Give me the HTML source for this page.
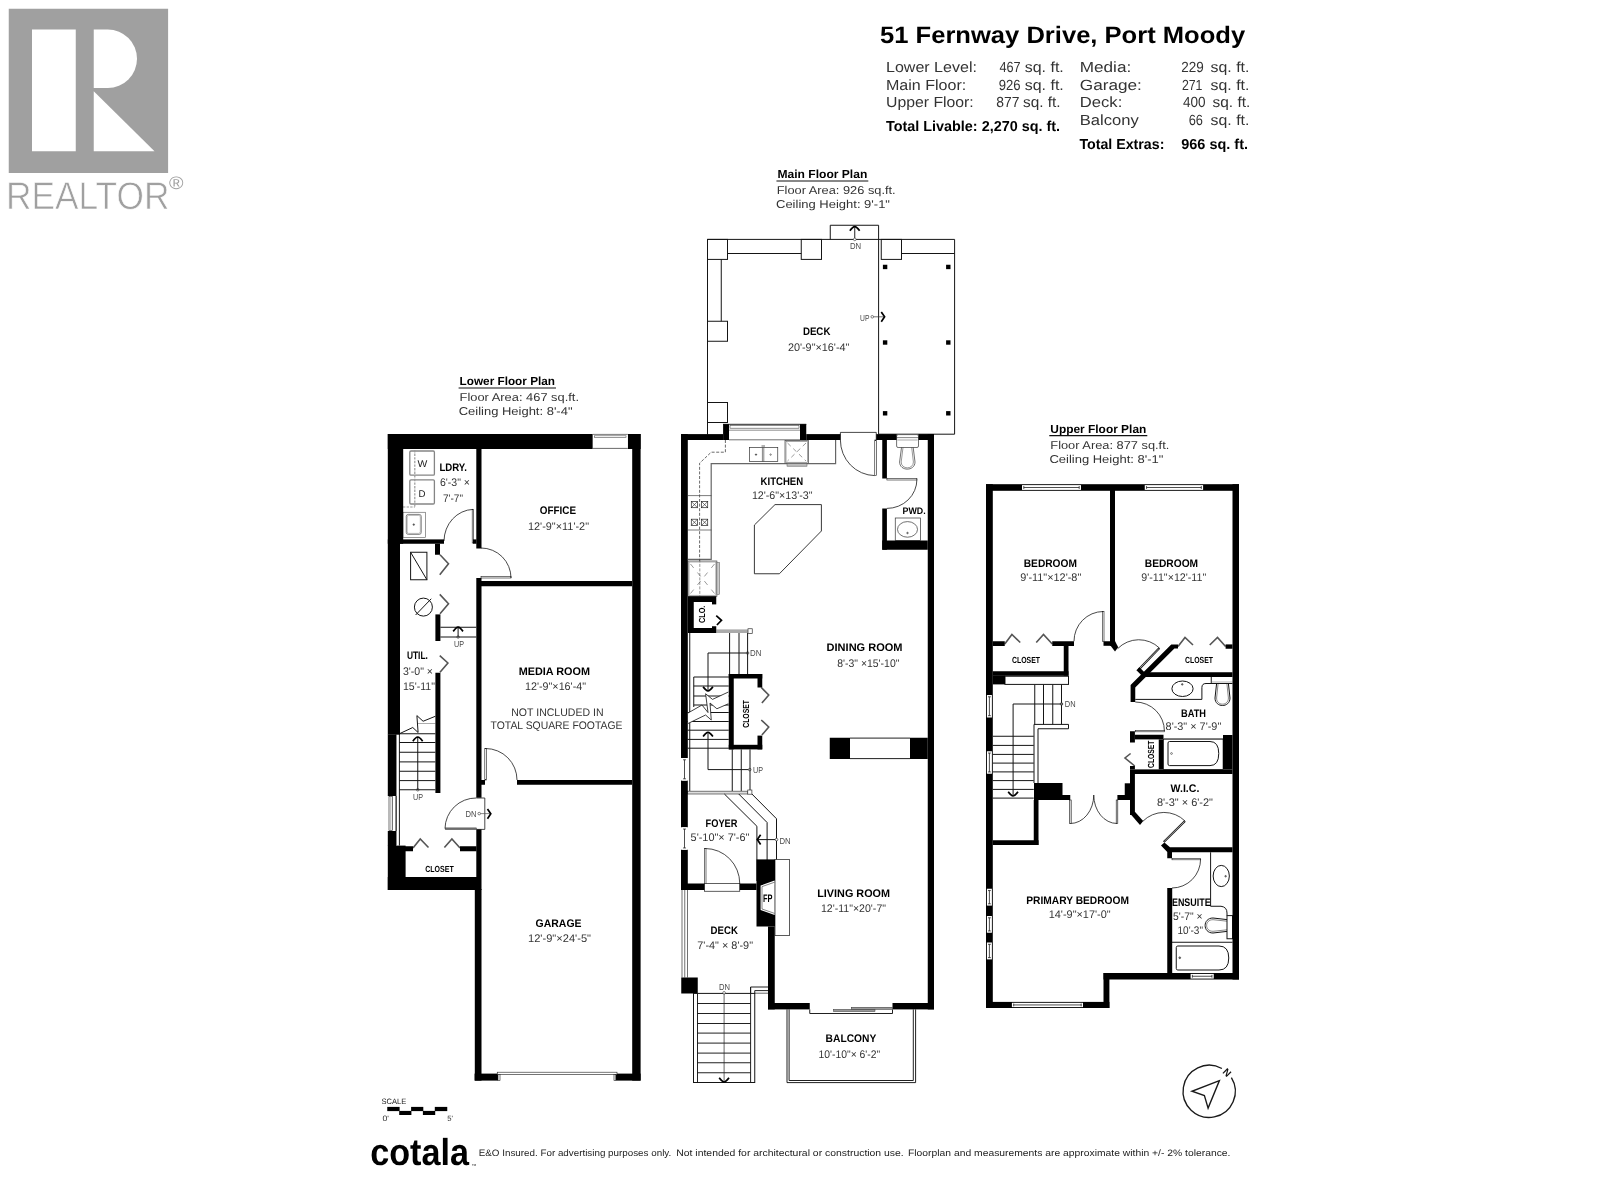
<!DOCTYPE html>
<html lang="en"><head><meta charset="utf-8"><title>51 Fernway Drive, Port Moody - Floor Plan</title>
<style>
html,body{margin:0;padding:0;background:#fff;}
body{width:1600px;height:1200px;overflow:hidden;}
svg{display:block;will-change:transform;text-rendering:geometricPrecision;font-family:"Liberation Sans",sans-serif;}
svg text{white-space:pre;}
</style></head><body>
<svg width="1600" height="1200" viewBox="0 0 1600 1200">
<rect width="1600" height="1200" fill="#fff"/>
<rect x="8.75" y="8.75" width="159.35" height="164.25" fill="#a0a0a0"/>
<rect x="32" y="29.5" width="43.75" height="121.75" fill="#fff"/>
<path d="M93.75,29.5 H107.75 A29.25,29.25 0 0 1 107.75,88 H93.75 Z" fill="#fff" stroke="none" stroke-width="0"/>
<path d="M93.75,91.25 L154.5,151.25 H93.75 Z" fill="#fff" stroke="none" stroke-width="0"/>
<text x="5.9" y="208.75" font-size="38.5" textLength="163.5" lengthAdjust="spacingAndGlyphs" fill="#a0a0a0" stroke="#fff" stroke-width="0.7">REALTOR</text>
<text x="169" y="188.6" font-size="18" textLength="14.5" lengthAdjust="spacingAndGlyphs" fill="#a0a0a0">®</text>
<text x="880" y="42.75" font-size="23.8" font-weight="700" textLength="365.2" lengthAdjust="spacingAndGlyphs" fill="#000">51 Fernway Drive, Port Moody</text>
<text x="886" y="71.9" font-size="14.7" textLength="90.9" lengthAdjust="spacingAndGlyphs" fill="#333">Lower Level:</text>
<text x="999.4" y="71.9" font-size="14.7" textLength="21.2" lengthAdjust="spacingAndGlyphs" fill="#333">467</text>
<text x="1024.75" y="71.9" font-size="14.7" textLength="39" lengthAdjust="spacingAndGlyphs" fill="#333">sq. ft.</text>
<text x="886" y="89.75" font-size="14.7" textLength="80.25" lengthAdjust="spacingAndGlyphs" fill="#333">Main Floor:</text>
<text x="998.75" y="89.75" font-size="14.7" textLength="21.85" lengthAdjust="spacingAndGlyphs" fill="#333">926</text>
<text x="1024.75" y="89.75" font-size="14.7" textLength="39" lengthAdjust="spacingAndGlyphs" fill="#333">sq. ft.</text>
<text x="886" y="107.25" font-size="14.7" textLength="87.75" lengthAdjust="spacingAndGlyphs" fill="#333">Upper Floor:</text>
<text x="996.25" y="107.25" font-size="14.7" textLength="23.15" lengthAdjust="spacingAndGlyphs" fill="#333">877</text>
<text x="1023" y="107.25" font-size="14.7" textLength="37.6" lengthAdjust="spacingAndGlyphs" fill="#333">sq. ft.</text>
<text x="886" y="130.6" font-size="14.4" font-weight="700" textLength="174" lengthAdjust="spacingAndGlyphs" fill="#000">Total Livable: 2,270 sq. ft.</text>
<text x="1079.75" y="71.9" font-size="14.7" textLength="51.5" lengthAdjust="spacingAndGlyphs" fill="#333">Media:</text>
<text x="1181.25" y="71.9" font-size="14.7" textLength="22.5" lengthAdjust="spacingAndGlyphs" fill="#333">229</text>
<text x="1210.6" y="71.9" font-size="14.7" textLength="38.8" lengthAdjust="spacingAndGlyphs" fill="#333">sq. ft.</text>
<text x="1079.75" y="90" font-size="14.7" textLength="62.15" lengthAdjust="spacingAndGlyphs" fill="#333">Garage:</text>
<text x="1181.9" y="90" font-size="14.7" textLength="20.6" lengthAdjust="spacingAndGlyphs" fill="#333">271</text>
<text x="1210.6" y="90" font-size="14.7" textLength="38.8" lengthAdjust="spacingAndGlyphs" fill="#333">sq. ft.</text>
<text x="1079.75" y="106.9" font-size="14.7" textLength="42.5" lengthAdjust="spacingAndGlyphs" fill="#333">Deck:</text>
<text x="1183" y="106.9" font-size="14.7" textLength="22.6" lengthAdjust="spacingAndGlyphs" fill="#333">400</text>
<text x="1212.5" y="106.9" font-size="14.7" textLength="37.75" lengthAdjust="spacingAndGlyphs" fill="#333">sq. ft.</text>
<text x="1079.75" y="124.75" font-size="14.7" textLength="59" lengthAdjust="spacingAndGlyphs" fill="#333">Balcony</text>
<text x="1188.75" y="124.75" font-size="14.7" textLength="14.25" lengthAdjust="spacingAndGlyphs" fill="#333">66</text>
<text x="1210.6" y="124.75" font-size="14.7" textLength="38.8" lengthAdjust="spacingAndGlyphs" fill="#333">sq. ft.</text>
<text x="1079.4" y="148.5" font-size="14.4" font-weight="700" textLength="85" lengthAdjust="spacingAndGlyphs" fill="#000">Total Extras:</text>
<text x="1181.25" y="148.5" font-size="14.4" font-weight="700" textLength="66.75" lengthAdjust="spacingAndGlyphs" fill="#000">966 sq. ft.</text>
<text x="459.6" y="384.8" font-size="11.8" font-weight="700" textLength="95.4" lengthAdjust="spacingAndGlyphs" fill="#000">Lower Floor Plan</text>
<path d="M458.6,388 L556,388" fill="none" stroke="#111" stroke-width="1.2"/>
<text x="459.6" y="401.2" font-size="11.4" textLength="119.4" lengthAdjust="spacingAndGlyphs" fill="#333">Floor Area: 467 sq.ft.</text>
<text x="458.75" y="415.2" font-size="11.4" textLength="113.75" lengthAdjust="spacingAndGlyphs" fill="#333">Ceiling Height: 8'-4"</text>
<text x="777.45" y="177.8" font-size="11.8" font-weight="700" textLength="89.85" lengthAdjust="spacingAndGlyphs" fill="#000">Main Floor Plan</text>
<path d="M776.45,181 L868.3,181" fill="none" stroke="#111" stroke-width="1.2"/>
<text x="776.75" y="194.4" font-size="11.4" textLength="118.95" lengthAdjust="spacingAndGlyphs" fill="#333">Floor Area: 926 sq.ft.</text>
<text x="776" y="208.4" font-size="11.4" textLength="114" lengthAdjust="spacingAndGlyphs" fill="#333">Ceiling Height: 9'-1"</text>
<text x="1050.3" y="432.5" font-size="11.8" font-weight="700" textLength="96" lengthAdjust="spacingAndGlyphs" fill="#000">Upper Floor Plan</text>
<path d="M1049.3,435.7 L1147.3,435.7" fill="none" stroke="#111" stroke-width="1.2"/>
<text x="1050.3" y="449.4" font-size="11.4" textLength="119" lengthAdjust="spacingAndGlyphs" fill="#333">Floor Area: 877 sq.ft.</text>
<text x="1049.4" y="463.1" font-size="11.4" textLength="114" lengthAdjust="spacingAndGlyphs" fill="#333">Ceiling Height: 8'-1"</text>
<rect x="409.8" y="451" width="24.6" height="24.2" rx="1.2" fill="none" stroke="#858585" stroke-width="1.3"/>
<rect x="409.8" y="479.8" width="24.6" height="24.2" rx="1.2" fill="none" stroke="#858585" stroke-width="1.3"/>
<path d="M414.8,450 L414.8,507" fill="none" stroke="#999" stroke-width="1.2" stroke-dasharray="2.4 1.2"/>
<path d="M403,507 L415,507" fill="none" stroke="#999" stroke-width="1.2" stroke-dasharray="2.4 1.2"/>
<text x="417.6" y="466.7" font-size="9.8" textLength="9.8" lengthAdjust="spacingAndGlyphs" fill="#222">W</text>
<text x="418.6" y="496.7" font-size="9.8" textLength="7" lengthAdjust="spacingAndGlyphs" fill="#222">D</text>
<rect x="403" y="512.25" width="22.6" height="25.25" fill="#fff" stroke="#555" stroke-width="0.6"/>
<rect x="406.25" y="514.4" width="15" height="20" rx="2" fill="none" stroke="#555" stroke-width="0.7"/>
<rect x="407.2" y="515.4" width="13.1" height="18" rx="1.5" fill="none" stroke="#555" stroke-width="0.4"/>
<circle cx="413.75" cy="524.6" r="0.8" fill="#555" stroke="#555" stroke-width="0.6"/>
<rect x="410.6" y="552.25" width="16.3" height="27.5" fill="none" stroke="#151515" stroke-width="1"/>
<path d="M410.6,552.25 L426.9,579.75" fill="none" stroke="#151515" stroke-width="1"/>
<circle cx="423.4" cy="607.1" r="9" fill="none" stroke="#151515" stroke-width="1"/>
<path d="M415.6,615 L431.25,598.75" fill="none" stroke="#151515" stroke-width="1"/>
<path d="M396,734.4 L396,845.6" fill="none" stroke="#151515" stroke-width="1"/>
<path d="M399.4,733.75 L399.4,845.6" fill="none" stroke="#151515" stroke-width="1"/>
<path d="M399.4,733.75 L435.4,733.75" fill="none" stroke="#151515" stroke-width="1"/>
<path d="M399.4,742.5 L435.4,742.5" fill="none" stroke="#151515" stroke-width="1"/>
<path d="M399.4,752.25 L435.4,752.25" fill="none" stroke="#151515" stroke-width="1"/>
<path d="M399.4,761.9 L435.4,761.9" fill="none" stroke="#151515" stroke-width="1"/>
<path d="M399.4,771.25 L435.4,771.25" fill="none" stroke="#151515" stroke-width="1"/>
<path d="M399.4,780.6 L435.4,780.6" fill="none" stroke="#151515" stroke-width="1"/>
<path d="M399.4,789.75 L435.4,789.75" fill="none" stroke="#151515" stroke-width="1"/>
<path d="M396,733.75 L399.4,733.75" fill="none" stroke="#151515" stroke-width="1"/>
<path d="M399.4,733.75 L412.75,727.5 L418.1,732.5 L416.9,715.6 L423.1,721.25 L435.4,716.25" fill="none" stroke="#151515" stroke-width="1"/>
<path d="M418,723.5 L435.4,723.5" fill="none" stroke="#888" stroke-width="0.7"/>
<path d="M417.75,738 L417.75,789.75" fill="none" stroke="#151515" stroke-width="1"/>
<path d="M412.85,741.16 Q415.79,737.2 417.75,737 Q419.71,737.2 422.65,741.16" fill="none" stroke="#000" stroke-width="1.7"/>
<circle cx="417.75" cy="789.75" r="1.3" fill="none" stroke="#333" stroke-width="0.6"/>
<text x="413" y="799.9" font-size="8.6" textLength="10" lengthAdjust="spacingAndGlyphs" fill="#4a4a4a">UP</text>
<path d="M440.4,627.25 L476.25,627.25" fill="none" stroke="#151515" stroke-width="1"/>
<path d="M440.4,637 L476.25,637" fill="none" stroke="#151515" stroke-width="1"/>
<path d="M458.1,628 L458.1,637" fill="none" stroke="#151515" stroke-width="1"/>
<path d="M453.2,631.37 Q456.14,627.4 458.1,627.2 Q460.06,627.4 463,631.37" fill="none" stroke="#000" stroke-width="1.7"/>
<circle cx="458.1" cy="637" r="1.3" fill="none" stroke="#333" stroke-width="0.6"/>
<text x="454" y="646.8" font-size="8.6" textLength="10" lengthAdjust="spacingAndGlyphs" fill="#4a4a4a">UP</text>
<rect x="472.2" y="509.4" width="1.4" height="33.6" fill="#fff" stroke="#1a1a1a" stroke-width="0.6"/>
<path d="M473,509.4 A30,32 0 0 0 444,541" fill="none" stroke="#1a1a1a" stroke-width="0.8"/>
<rect x="481" y="576.3" width="30" height="1.7" fill="#fff" stroke="#1a1a1a" stroke-width="0.6"/>
<path d="M481,548 A30,30 0 0 1 511,578" fill="none" stroke="#1a1a1a" stroke-width="0.8"/>
<rect x="484.8" y="748.5" width="1.7" height="31.5" fill="#fff" stroke="#1a1a1a" stroke-width="0.6"/>
<path d="M485.6,748.5 A31.5,31.5 0 0 1 517,780" fill="none" stroke="#1a1a1a" stroke-width="0.8"/>
<path d="M476.4,798 L484.8,798 L484.8,829.4 L476.4,829.4" fill="none" stroke="#1a1a1a" stroke-width="0.8"/>
<rect x="445.2" y="827.9" width="31.2" height="1.6" fill="#777" stroke="#333" stroke-width="0.5"/>
<path d="M445,828.5 A31,31 0 0 1 476.25,798" fill="none" stroke="#1a1a1a" stroke-width="0.8"/>
<text x="465.4" y="816.7" font-size="8.6" textLength="11" lengthAdjust="spacingAndGlyphs" fill="#4a4a4a">DN</text>
<circle cx="479.2" cy="813.6" r="1.3" fill="none" stroke="#333" stroke-width="0.6"/>
<path d="M480.5,813.6 L490,813.6" fill="none" stroke="#555" stroke-width="0.7"/>
<path d="M487.47,808.9 L490.8,813.8 L487.47,818.7" fill="none" stroke="#000" stroke-width="1.7"/>
<path d="M440,554.75 L448.5,563.75 L439.75,574.75" fill="none" stroke="#555" stroke-width="1.6" stroke-linejoin="miter"/>
<path d="M439.75,594.4 L448.5,603.75 L440,613.75" fill="none" stroke="#555" stroke-width="1.6" stroke-linejoin="miter"/>
<path d="M439.75,655.6 L447.9,663 L440,672.25" fill="none" stroke="#555" stroke-width="1.6" stroke-linejoin="miter"/>
<path d="M413,848 L420.25,839 L428.5,847.5" fill="none" stroke="#555" stroke-width="1.6" stroke-linejoin="miter"/>
<path d="M444.4,847.5 L451.9,839 L460,848" fill="none" stroke="#555" stroke-width="1.6" stroke-linejoin="miter"/>
<rect x="387.8" y="434" width="205" height="15" fill="#000"/>
<rect x="627.8" y="434" width="12.8" height="15" fill="#000"/>
<rect x="387.8" y="434" width="15.4" height="109.75" fill="#000"/>
<rect x="387.8" y="539.4" width="12.2" height="195.2" fill="#000"/>
<rect x="387.8" y="734.4" width="8.2" height="61.6" fill="#000"/>
<rect x="387.8" y="831" width="8.2" height="15" fill="#000"/>
<rect x="387.8" y="845.6" width="17.8" height="44.4" fill="#000"/>
<rect x="632.2" y="434" width="8.4" height="646.6" fill="#000"/>
<rect x="476.3" y="448" width="5.2" height="100.5" fill="#000"/>
<rect x="473" y="539.4" width="3.5" height="4.35" fill="#000"/>
<rect x="400" y="539.4" width="44" height="4.35" fill="#000"/>
<rect x="435" y="543.75" width="5" height="11" fill="#000"/>
<rect x="435.4" y="614.4" width="5" height="26.6" fill="#000"/>
<rect x="435.4" y="672.75" width="5" height="120.25" fill="#000"/>
<rect x="476.3" y="578" width="5.2" height="219.7" fill="#000"/>
<rect x="476.3" y="829.4" width="5.2" height="60.6" fill="#000"/>
<rect x="474.8" y="889" width="6.7" height="191.6" fill="#000"/>
<rect x="481" y="581" width="151.2" height="5.25" fill="#000"/>
<rect x="517" y="780" width="115.2" height="4.75" fill="#000"/>
<rect x="481" y="780" width="4" height="4.75" fill="#000"/>
<rect x="396" y="846.25" width="17" height="5" fill="#000"/>
<rect x="460" y="846.25" width="16.5" height="5" fill="#000"/>
<rect x="387.8" y="877" width="93.2" height="13" fill="#000"/>
<rect x="474.6" y="1073.6" width="23.4" height="7" fill="#000"/>
<rect x="615.6" y="1073.6" width="25" height="7" fill="#000"/>
<rect x="497.25" y="1072.2" width="119.75" height="2.2" fill="#fff" stroke="#1a1a1a" stroke-width="0.6"/>
<rect x="498" y="1074.4" width="2" height="6" fill="#fff" stroke="#1a1a1a" stroke-width="0.6"/>
<rect x="614" y="1074.4" width="1.8" height="6" fill="#fff" stroke="#1a1a1a" stroke-width="0.6"/>
<rect x="592.8" y="434" width="35" height="14.75" fill="#fff"/>
<path d="M592.8,434.4 L627.8,434.4" fill="none" stroke="#444" stroke-width="0.7"/>
<rect x="594.5" y="435.8" width="31.5" height="1.8" fill="#fff" stroke="#555" stroke-width="0.6"/>
<path d="M592.8,448.4 L627.8,448.4" fill="none" stroke="#444" stroke-width="0.8"/>
<rect x="388" y="796" width="8" height="35" fill="#fff"/>
<rect x="389" y="796.4" width="3.6" height="34.2" fill="#fff" stroke="#1a1a1a" stroke-width="0.6"/>
<path d="M390.8,797 L390.8,830" fill="none" stroke="#555" stroke-width="0.5"/>
<path d="M396,796 L396,831" fill="none" stroke="#151515" stroke-width="1"/>
<text x="439.4" y="471.4" font-size="11" font-weight="700" textLength="27.5" lengthAdjust="spacingAndGlyphs" fill="#000">LDRY.</text>
<text x="440" y="486.1" font-size="11" textLength="30" lengthAdjust="spacingAndGlyphs" fill="#333">6'-3" ×</text>
<text x="443" y="501.75" font-size="11" textLength="20" lengthAdjust="spacingAndGlyphs" fill="#333">7'-7"</text>
<text x="539.75" y="513.9" font-size="11" font-weight="700" textLength="36.25" lengthAdjust="spacingAndGlyphs" fill="#000">OFFICE</text>
<text x="528" y="529.9" font-size="11" textLength="61" lengthAdjust="spacingAndGlyphs" fill="#333">12'-9"×11'-2"</text>
<text x="406.9" y="659.15" font-size="11" font-weight="700" textLength="21" lengthAdjust="spacingAndGlyphs" fill="#000">UTIL.</text>
<text x="403" y="674.9" font-size="11" textLength="30" lengthAdjust="spacingAndGlyphs" fill="#333">3'-0" ×</text>
<text x="403" y="689.9" font-size="11" textLength="32" lengthAdjust="spacingAndGlyphs" fill="#333">15'-11"</text>
<text x="518.75" y="675.4" font-size="11" font-weight="700" textLength="71.25" lengthAdjust="spacingAndGlyphs" fill="#000">MEDIA ROOM</text>
<text x="525" y="689.9" font-size="11" textLength="61" lengthAdjust="spacingAndGlyphs" fill="#333">12'-9"×16'-4"</text>
<text x="511.25" y="715.5" font-size="11" textLength="92.25" lengthAdjust="spacingAndGlyphs" fill="#333">NOT INCLUDED IN</text>
<text x="490.6" y="729" font-size="11" textLength="131.9" lengthAdjust="spacingAndGlyphs" fill="#333">TOTAL SQUARE FOOTAGE</text>
<text x="425.25" y="872.3" font-size="8.8" font-weight="700" textLength="28.5" lengthAdjust="spacingAndGlyphs" fill="#000">CLOSET</text>
<text x="535.6" y="926.9" font-size="11" font-weight="700" textLength="45.9" lengthAdjust="spacingAndGlyphs" fill="#000">GARAGE</text>
<text x="528" y="942" font-size="11" textLength="63" lengthAdjust="spacingAndGlyphs" fill="#333">12'-9"×24'-5"</text>
<path d="M707.5,434.4 L707.5,239.4 L954.6,239.4 L954.6,434.2 L878.6,434.2" fill="none" stroke="#151515" stroke-width="1"/>
<rect x="707.5" y="239.4" width="20" height="20" fill="none" stroke="#151515" stroke-width="1"/>
<rect x="801.25" y="239.4" width="20.25" height="20" fill="none" stroke="#151515" stroke-width="1"/>
<rect x="881.25" y="239.4" width="20.25" height="20" fill="none" stroke="#151515" stroke-width="1"/>
<rect x="707.5" y="321.25" width="20" height="20" fill="none" stroke="#151515" stroke-width="1"/>
<rect x="707.5" y="402.5" width="20" height="20" fill="none" stroke="#151515" stroke-width="1"/>
<path d="M727.5,253.5 L801.25,253.5" fill="none" stroke="#151515" stroke-width="1"/>
<path d="M901.5,253.5 L954.6,253.5" fill="none" stroke="#151515" stroke-width="1"/>
<path d="M721.25,259.4 L721.25,321.25" fill="none" stroke="#151515" stroke-width="1"/>
<path d="M830.25,239.4 L830.25,225.25 L878.6,225.25 L878.6,434.2" fill="none" stroke="#151515" stroke-width="1"/>
<rect x="882.9" y="264.75" width="4.4" height="4.4" fill="#000"/>
<rect x="882.9" y="340.3" width="4.4" height="4.4" fill="#000"/>
<rect x="882.9" y="411.1" width="4.4" height="4.4" fill="#000"/>
<rect x="946.1" y="264.75" width="4.4" height="4.4" fill="#000"/>
<rect x="946.1" y="340.3" width="4.4" height="4.4" fill="#000"/>
<rect x="946.1" y="411.1" width="4.4" height="4.4" fill="#000"/>
<path d="M854.75,227.5 L854.75,239.4" fill="none" stroke="#151515" stroke-width="0.95"/>
<path d="M849.85,230.76 Q852.79,226.8 854.75,226.6 Q856.71,226.8 859.65,230.76" fill="none" stroke="#000" stroke-width="1.7"/>
<circle cx="854.75" cy="239.4" r="1.3" fill="#fff" stroke="#333" stroke-width="0.6"/>
<text x="850" y="249.3" font-size="8.6" textLength="11.2" lengthAdjust="spacingAndGlyphs" fill="#4a4a4a">DN</text>
<text x="860" y="320.7" font-size="8.6" textLength="9.4" lengthAdjust="spacingAndGlyphs" fill="#4a4a4a">UP</text>
<circle cx="872.25" cy="316.8" r="1.3" fill="none" stroke="#333" stroke-width="0.6"/>
<path d="M873.5,316.8 L884,316.8" fill="none" stroke="#333" stroke-width="0.7"/>
<path d="M881.27,311.9 L884.6,316.8 L881.27,321.7" fill="none" stroke="#000" stroke-width="1.7"/>
<path d="M835.6,440 L835.6,463.6 L711.2,463.6 L711.2,559.4 L688,559.4" fill="none" stroke="#666" stroke-width="1.2"/>
<path d="M725.4,440 L725.4,452.2 L711.2,452.2 L699.6,463.2 L699.6,596" fill="none" stroke="#444" stroke-width="0.8" stroke-dasharray="3 1.6"/>
<rect x="749.4" y="447.5" width="28.35" height="14" fill="#fff" stroke="#333" stroke-width="0.7"/>
<path d="M762.4,447.5 L762.4,461.5" fill="none" stroke="#333" stroke-width="0.6"/>
<path d="M763.8,447.5 L763.8,461.5" fill="none" stroke="#333" stroke-width="0.6"/>
<circle cx="756" cy="454.6" r="0.7" fill="#333" stroke="#333" stroke-width="0.6"/>
<circle cx="770.6" cy="454.6" r="0.7" fill="none" stroke="#333" stroke-width="0.6"/>
<path d="M761.5,446 L765,446" fill="none" stroke="#555" stroke-width="0.9"/>
<rect x="785" y="440.6" width="23.5" height="22.6" fill="#fff" stroke="#444" stroke-width="0.7"/>
<rect x="786" y="441.6" width="21.5" height="20.6" fill="none" stroke="#555" stroke-width="0.5"/>
<rect x="787" y="463.5" width="20" height="2.7" fill="#bbb" stroke="#555" stroke-width="0.5"/>
<path d="M787.5,443 L806,461" fill="none" stroke="#555" stroke-width="0.6" stroke-dasharray="4.5 3.5"/>
<path d="M806,443 L787.5,461" fill="none" stroke="#555" stroke-width="0.6" stroke-dasharray="4.5 3.5"/>
<path d="M688,495.6 L711.4,495.6" fill="none" stroke="#444" stroke-width="0.7"/>
<path d="M688,530 L711.4,530" fill="none" stroke="#444" stroke-width="0.7"/>
<rect x="691.3" y="501.5" width="6.2" height="6.2" fill="#fff" stroke="#222" stroke-width="0.7"/>
<path d="M691.3,501.5 L697.5,507.7" fill="none" stroke="#222" stroke-width="0.6"/>
<path d="M697.5,501.5 L691.3,507.7" fill="none" stroke="#222" stroke-width="0.6"/>
<rect x="691.3" y="519.2" width="6.2" height="6.2" fill="#fff" stroke="#222" stroke-width="0.7"/>
<path d="M691.3,519.2 L697.5,525.4" fill="none" stroke="#222" stroke-width="0.6"/>
<path d="M697.5,519.2 L691.3,525.4" fill="none" stroke="#222" stroke-width="0.6"/>
<rect x="701.5" y="501.5" width="6.2" height="6.2" fill="#fff" stroke="#222" stroke-width="0.7"/>
<path d="M701.5,501.5 L707.7,507.7" fill="none" stroke="#222" stroke-width="0.6"/>
<path d="M707.7,501.5 L701.5,507.7" fill="none" stroke="#222" stroke-width="0.6"/>
<rect x="701.5" y="519.2" width="6.2" height="6.2" fill="#fff" stroke="#222" stroke-width="0.7"/>
<path d="M701.5,519.2 L707.7,525.4" fill="none" stroke="#222" stroke-width="0.6"/>
<path d="M707.7,519.2 L701.5,525.4" fill="none" stroke="#222" stroke-width="0.6"/>
<rect x="688" y="561" width="28.9" height="35.25" fill="#fff" stroke="#444" stroke-width="0.7"/>
<rect x="689" y="562" width="26.9" height="33.2" fill="none" stroke="#666" stroke-width="0.5"/>
<rect x="716.9" y="562.5" width="2.7" height="31.9" fill="#ccc" stroke="#555" stroke-width="0.5"/>
<path d="M690.5,564 L714.5,593.5" fill="none" stroke="#555" stroke-width="0.6" stroke-dasharray="5 6"/>
<path d="M714.5,564 L690.5,593.5" fill="none" stroke="#555" stroke-width="0.6" stroke-dasharray="5 6"/>
<path d="M699.8,559.4 L699.8,596" fill="none" stroke="#555" stroke-width="0.6" stroke-dasharray="3 1.5"/>
<path d="M775,504.6 L821.4,504.6 L821.4,531 L779.4,573.75 L754.4,573.75 L754.4,525Z" fill="none" stroke="#222" stroke-width="0.9"/>
<rect x="896.6" y="434.6" width="21.9" height="12.9" rx="1.5" fill="#fff" stroke="#333" stroke-width="0.7"/>
<path d="M896.6,437.6 L918.5,437.6" fill="none" stroke="#333" stroke-width="0.6"/>
<path d="M897.5,440 L917.6,440" fill="none" stroke="#555" stroke-width="0.5"/>
<path d="M901.5,447.5 L899.6,462 C899.6,471.5 915,471.5 915,462 L913.2,447.5" fill="none" stroke="#333" stroke-width="0.7"/>
<path d="M903,447.5 L901.2,462 C901.2,469.8 913.4,469.8 913.4,462 L911.7,447.5" fill="none" stroke="#333" stroke-width="0.5"/>
<rect x="895.25" y="518" width="25.35" height="22.5" fill="#fff" stroke="#333" stroke-width="0.7"/>
<ellipse cx="907.5" cy="529.4" rx="10" ry="7.8" fill="none" stroke="#333" stroke-width="0.7"/>
<circle cx="907.5" cy="533" r="0.8" fill="#777" stroke="#333" stroke-width="0.5"/>
<path d="M689.75,633 L689.75,791" fill="none" stroke="#151515" stroke-width="1"/>
<path d="M729.6,633 L729.6,674" fill="none" stroke="#151515" stroke-width="1"/>
<path d="M739,633 L739,674" fill="none" stroke="#151515" stroke-width="1"/>
<path d="M747.6,633 L747.6,674" fill="none" stroke="#151515" stroke-width="1"/>
<path d="M732.25,749.4 L732.25,791" fill="none" stroke="#151515" stroke-width="1"/>
<path d="M741.25,749.4 L741.25,791" fill="none" stroke="#151515" stroke-width="1"/>
<path d="M750,749.4 L750,791" fill="none" stroke="#151515" stroke-width="1"/>
<path d="M693.75,677 L693.75,707" fill="none" stroke="#151515" stroke-width="1"/>
<path d="M693.75,677 L728.75,677" fill="none" stroke="#151515" stroke-width="1"/>
<path d="M693.75,686 L728.75,686" fill="none" stroke="#151515" stroke-width="1"/>
<path d="M693.75,696 L728.75,696" fill="none" stroke="#151515" stroke-width="1"/>
<path d="M693.75,705 L728.75,705" fill="none" stroke="#151515" stroke-width="1"/>
<path d="M687.5,712.5 L728.75,712.5" fill="none" stroke="#151515" stroke-width="1"/>
<path d="M687.5,721.5 L728.75,721.5" fill="none" stroke="#151515" stroke-width="1"/>
<path d="M687.5,730.2 L728.75,730.2" fill="none" stroke="#151515" stroke-width="1"/>
<path d="M687.5,739.4 L728.75,739.4" fill="none" stroke="#151515" stroke-width="1"/>
<path d="M687.5,748.2 L728.75,748.2" fill="none" stroke="#151515" stroke-width="1"/>
<polygon points="688,713 702,705 708,712.5 705.6,693.75 712.5,699.4 728.4,692 728.4,703.75 716.9,708.75 710,703 711.25,720 705.6,715 688,723.5" fill="#fff"/>
<path d="M688,713 L702,705 L708,712.5 L705.6,693.75 L712.5,699.4 L728.4,692" fill="none" stroke="#111" stroke-width="0.8"/>
<path d="M688,723.5 L705.6,715 L711.25,720 L710,703 L716.9,708.75 L728.4,703.75" fill="none" stroke="#111" stroke-width="0.8"/>
<circle cx="747.6" cy="653" r="1.3" fill="none" stroke="#151515" stroke-width="0.6"/>
<text x="750" y="656.3" font-size="8.6" textLength="11.4" lengthAdjust="spacingAndGlyphs" fill="#4a4a4a">DN</text>
<path d="M746.3,653 L708,653 L708,690" fill="none" stroke="#151515" stroke-width="1"/>
<path d="M703.1,686.84 Q706.04,690.8 708,691 Q709.96,690.8 712.9,686.84" fill="none" stroke="#000" stroke-width="1.7"/>
<circle cx="749.75" cy="769.6" r="1.3" fill="none" stroke="#151515" stroke-width="0.6"/>
<text x="753" y="773.1" font-size="8.6" textLength="10" lengthAdjust="spacingAndGlyphs" fill="#4a4a4a">UP</text>
<path d="M748.4,769.6 L708,769.6 L708,733.5" fill="none" stroke="#151515" stroke-width="1"/>
<path d="M703.1,736.56 Q706.04,732.6 708,732.4 Q709.96,732.6 712.9,736.56" fill="none" stroke="#000" stroke-width="1.7"/>
<rect x="716.25" y="629.4" width="31.75" height="3.6" fill="#aaa"/>
<rect x="748" y="628.75" width="4.25" height="4.75" fill="#fff" stroke="#333" stroke-width="0.7"/>
<rect x="687.5" y="791.2" width="60.2" height="2.8" fill="#ddd" stroke="#444" stroke-width="0.7"/>
<rect x="747.75" y="790" width="4.15" height="4.2" fill="#fff" stroke="#333" stroke-width="0.7"/>
<path d="M724.4,794 L756.9,826.25 L756.9,881" fill="none" stroke="#151515" stroke-width="1"/>
<path d="M738.75,794 L767.1,822.5 L767.1,860" fill="none" stroke="#151515" stroke-width="1"/>
<path d="M751.9,794 L776.5,818.75 L776.5,860" fill="none" stroke="#151515" stroke-width="1"/>
<circle cx="776.5" cy="839.6" r="1.3" fill="#fff" stroke="#151515" stroke-width="0.6"/>
<path d="M758,839.6 L775.2,839.6" fill="none" stroke="#151515" stroke-width="1"/>
<path d="M760.63,834.7 L757.3,839.6 L760.63,844.5" fill="none" stroke="#000" stroke-width="1.7"/>
<text x="779.4" y="844.1" font-size="8.6" textLength="11.2" lengthAdjust="spacingAndGlyphs" fill="#4a4a4a">DN</text>
<rect x="840.4" y="432.4" width="35.85" height="7.6" fill="#fff"/>
<path d="M840.4,440 L840.4,432.4 L876.25,432.4 L876.25,440" fill="none" stroke="#1a1a1a" stroke-width="0.8"/>
<rect x="874.75" y="440" width="1.65" height="35.6" fill="#fff" stroke="#1a1a1a" stroke-width="0.6"/>
<path d="M840.4,440 A35,35.6 0 0 0 874.75,475.6" fill="none" stroke="#1a1a1a" stroke-width="0.8"/>
<rect x="886.9" y="478.5" width="30" height="1.5" fill="#fff" stroke="#1a1a1a" stroke-width="0.6"/>
<path d="M916.9,479.4 A30,29 0 0 1 886.9,508.4" fill="none" stroke="#1a1a1a" stroke-width="0.8"/>
<rect x="704.4" y="883.5" width="35.35" height="7.75" fill="#fff" stroke="#1a1a1a" stroke-width="0.7"/>
<rect x="704.4" y="848.5" width="1.6" height="35" fill="#fff" stroke="#1a1a1a" stroke-width="0.6"/>
<path d="M705.2,848.5 A34.6,35 0 0 1 739.75,883.5" fill="none" stroke="#1a1a1a" stroke-width="0.8"/>
<path d="M716.25,615.6 L721.5,620.25 L716.9,625" fill="none" stroke="#000" stroke-width="1.7" stroke-linejoin="miter"/>
<path d="M761.25,687.5 L768.75,695 L761.9,703" fill="none" stroke="#555" stroke-width="1.6" stroke-linejoin="miter"/>
<path d="M761.25,720 L768.75,727 L761.9,735" fill="none" stroke="#555" stroke-width="1.6" stroke-linejoin="miter"/>
<rect x="775" y="859.4" width="14.4" height="76.2" fill="#fff" stroke="#333" stroke-width="0.8"/>
<rect x="681" y="434.1" width="6.8" height="323.9" fill="#000"/>
<rect x="681" y="780.6" width="6.8" height="46.65" fill="#000"/>
<rect x="681" y="849.75" width="6.8" height="40.25" fill="#000"/>
<rect x="682.1" y="758" width="4.8" height="22.6" fill="#fff"/>
<path d="M684.5,759.8 L684.5,778.8" fill="none" stroke="#222" stroke-width="0.8"/>
<path d="M683.1,759.8 L685.9,759.8" fill="none" stroke="#222" stroke-width="0.8"/>
<path d="M683.1,778.8 L685.9,778.8" fill="none" stroke="#222" stroke-width="0.8"/>
<rect x="682.1" y="827.25" width="4.8" height="22.5" fill="#fff"/>
<path d="M684.5,829.05 L684.5,847.95" fill="none" stroke="#222" stroke-width="0.8"/>
<path d="M683.1,829.05 L685.9,829.05" fill="none" stroke="#222" stroke-width="0.8"/>
<path d="M683.1,847.95 L685.9,847.95" fill="none" stroke="#222" stroke-width="0.8"/>
<rect x="681" y="434.1" width="42.1" height="5.9" fill="#000"/>
<rect x="723.1" y="424" width="5.9" height="16" fill="#000"/>
<rect x="800" y="424" width="6.25" height="16" fill="#000"/>
<rect x="806.25" y="434.1" width="34.15" height="5.9" fill="#000"/>
<rect x="876.25" y="434.1" width="20.35" height="5.9" fill="#000"/>
<rect x="918.5" y="434.1" width="15.5" height="5.9" fill="#000"/>
<rect x="927.75" y="434.1" width="6.25" height="575.3" fill="#000"/>
<path d="M723.1,424.3 L806.25,424.3" fill="none" stroke="#111" stroke-width="0.9"/>
<rect x="730" y="425.6" width="69" height="2.6" fill="#fff" stroke="#444" stroke-width="0.6"/>
<path d="M729,430.2 L800,430.2" fill="none" stroke="#444" stroke-width="0.6"/>
<path d="M729,439.8 L800,439.8" fill="none" stroke="#333" stroke-width="0.7"/>
<rect x="882.25" y="440" width="4.65" height="38.5" fill="#000"/>
<rect x="882.25" y="508.5" width="4.65" height="41.25" fill="#000"/>
<rect x="882.25" y="540.5" width="45.5" height="9.25" fill="#000"/>
<rect x="688" y="596.25" width="28.25" height="5.75" fill="#000"/>
<rect x="712" y="602" width="4.25" height="2.4" fill="#000"/>
<rect x="688" y="602" width="5.75" height="26" fill="#000"/>
<rect x="688" y="628" width="28.25" height="5" fill="#000"/>
<rect x="712" y="626.25" width="4.25" height="1.75" fill="#000"/>
<rect x="728.75" y="674" width="33.5" height="4.5" fill="#000"/>
<rect x="728.75" y="674" width="5" height="75.4" fill="#000"/>
<rect x="728.75" y="744.8" width="33.5" height="4.6" fill="#000"/>
<rect x="757.5" y="674" width="4.75" height="13.5" fill="#000"/>
<rect x="757.5" y="735.6" width="4.75" height="13.8" fill="#000"/>
<rect x="829.75" y="737.75" width="20.25" height="21.25" fill="#000"/>
<rect x="910" y="737.75" width="17.75" height="21.25" fill="#000"/>
<path d="M850,738.1 L910,738.1" fill="none" stroke="#151515" stroke-width="0.95"/>
<path d="M850,758.6 L910,758.6" fill="none" stroke="#151515" stroke-width="0.95"/>
<rect x="681.25" y="883.5" width="23.15" height="6.5" fill="#000"/>
<rect x="739.75" y="883.5" width="16.75" height="6.5" fill="#000"/>
<rect x="756.5" y="859.4" width="18.5" height="67.1" fill="#000"/>
<rect x="768" y="926.5" width="6.75" height="82.9" fill="#000"/>
<polygon points="774.6,880.6 760.6,885.6 760.6,910 774.6,915" fill="#fff"/>
<path d="M774.6,882.2 L762,886.6 L762,909 L774.6,913.4" fill="none" stroke="#333" stroke-width="0.6"/>
<rect x="768" y="1003" width="41.75" height="6.4" fill="#000"/>
<rect x="892.5" y="1003" width="41.5" height="6.4" fill="#000"/>
<path d="M809.75,1009.4 L809.75,1013.5 L892.5,1013.5 L892.5,1009.4" fill="none" stroke="#151515" stroke-width="0.95"/>
<rect x="833.5" y="1009.4" width="41.5" height="2.1" fill="#999" stroke="#333" stroke-width="0.5"/>
<rect x="851.25" y="1007.25" width="41.05" height="2.15" fill="#999" stroke="#333" stroke-width="0.5"/>
<path d="M682,890 L682,977.5" fill="none" stroke="#333" stroke-width="0.7"/>
<path d="M684.75,890 L684.75,977.5" fill="none" stroke="#333" stroke-width="0.7"/>
<path d="M687.5,890 L687.5,977.5" fill="none" stroke="#333" stroke-width="0.7"/>
<rect x="681.25" y="977.5" width="16.5" height="16" fill="#000"/>
<rect x="693.5" y="993.4" width="61.25" height="89.1" fill="none" stroke="#151515" stroke-width="1"/>
<path d="M697.5,993.4 L697.5,1082.5" fill="none" stroke="#151515" stroke-width="0.95"/>
<path d="M750.6,987 L750.6,1082.5" fill="none" stroke="#151515" stroke-width="0.95"/>
<path d="M697.5,1003.5 L750.6,1003.5" fill="none" stroke="#151515" stroke-width="0.95"/>
<path d="M697.5,1013.5 L750.6,1013.5" fill="none" stroke="#151515" stroke-width="0.95"/>
<path d="M697.5,1023.5 L750.6,1023.5" fill="none" stroke="#151515" stroke-width="0.95"/>
<path d="M697.5,1033.1 L750.6,1033.1" fill="none" stroke="#151515" stroke-width="0.95"/>
<path d="M697.5,1043.1 L750.6,1043.1" fill="none" stroke="#151515" stroke-width="0.95"/>
<path d="M697.5,1053.1 L750.6,1053.1" fill="none" stroke="#151515" stroke-width="0.95"/>
<path d="M697.5,1062.75 L750.6,1062.75" fill="none" stroke="#151515" stroke-width="0.95"/>
<path d="M697.5,1072.75 L750.6,1072.75" fill="none" stroke="#151515" stroke-width="0.95"/>
<path d="M750.6,993.4 L750.6,987 L768,987" fill="none" stroke="#151515" stroke-width="0.95"/>
<path d="M754.75,993.4 L754.75,990.6 L768,990.6" fill="none" stroke="#151515" stroke-width="0.95"/>
<path d="M754.75,993.2 L768,993.2" fill="none" stroke="#222" stroke-width="0.7"/>
<path d="M724.1,993.4 L724.1,1081" fill="none" stroke="#222" stroke-width="0.7"/>
<path d="M719.2,1077.84 Q722.14,1081.8 724.1,1082 Q726.06,1081.8 729,1077.84" fill="none" stroke="#000" stroke-width="1.7"/>
<circle cx="724.1" cy="992.8" r="1.3" fill="#fff" stroke="#333" stroke-width="0.6"/>
<text x="719" y="990.3" font-size="8.6" textLength="11" lengthAdjust="spacingAndGlyphs" fill="#4a4a4a">DN</text>
<path d="M787,1009.4 L787,1082.6 L915.6,1082.6 L915.6,1009.4" fill="none" stroke="#151515" stroke-width="0.95"/>
<path d="M789.1,1009.4 L789.1,1080.5 L913.3,1080.5 L913.3,1009.4" fill="none" stroke="#151515" stroke-width="0.95"/>
<text x="802.9" y="335.15" font-size="11" font-weight="700" textLength="27.5" lengthAdjust="spacingAndGlyphs" fill="#000">DECK</text>
<text x="787.9" y="350.9" font-size="11" textLength="61.5" lengthAdjust="spacingAndGlyphs" fill="#333">20'-9"×16'-4"</text>
<text x="760.6" y="484.8" font-size="11" font-weight="700" textLength="42.5" lengthAdjust="spacingAndGlyphs" fill="#000">KITCHEN</text>
<text x="751.9" y="498.6" font-size="11" textLength="60.6" lengthAdjust="spacingAndGlyphs" fill="#333">12'-6"×13'-3"</text>
<text x="902.5" y="513.5" font-size="9.4" font-weight="700" textLength="23.1" lengthAdjust="spacingAndGlyphs" fill="#000">PWD.</text>
<text x="701.6" y="623.1" dy="3.15" font-size="8.8" font-weight="700" textLength="17.5" lengthAdjust="spacingAndGlyphs" fill="#000" transform="rotate(-90 701.6 623.1)">CLO.</text>
<text x="746.25" y="727.75" dy="3.15" font-size="8.8" font-weight="700" textLength="27.75" lengthAdjust="spacingAndGlyphs" fill="#000" transform="rotate(-90 746.25 727.75)">CLOSET</text>
<text x="826.6" y="651.4" font-size="11" font-weight="700" textLength="75.9" lengthAdjust="spacingAndGlyphs" fill="#000">DINING ROOM</text>
<text x="837.25" y="666.5" font-size="11" textLength="62.15" lengthAdjust="spacingAndGlyphs" fill="#333">8'-3" ×15'-10"</text>
<text x="705.6" y="826.65" font-size="11" font-weight="700" textLength="31.9" lengthAdjust="spacingAndGlyphs" fill="#000">FOYER</text>
<text x="690.6" y="840.5" font-size="11" textLength="58.8" lengthAdjust="spacingAndGlyphs" fill="#333">5'-10"× 7'-6"</text>
<text x="763" y="901.65" font-size="11" font-weight="700" textLength="9.5" lengthAdjust="spacingAndGlyphs" fill="#000">FP</text>
<text x="710.6" y="933.9" font-size="11" font-weight="700" textLength="27.3" lengthAdjust="spacingAndGlyphs" fill="#000">DECK</text>
<text x="697.25" y="948.5" font-size="11" textLength="55.75" lengthAdjust="spacingAndGlyphs" fill="#333">7'-4" × 8'-9"</text>
<text x="817.25" y="896.9" font-size="11" font-weight="700" textLength="72.75" lengthAdjust="spacingAndGlyphs" fill="#000">LIVING ROOM</text>
<text x="821" y="911.75" font-size="11" textLength="65" lengthAdjust="spacingAndGlyphs" fill="#333">12'-11"×20'-7"</text>
<text x="825.6" y="1042.3" font-size="11" font-weight="700" textLength="50.65" lengthAdjust="spacingAndGlyphs" fill="#000">BALCONY</text>
<text x="818.5" y="1057.75" font-size="11" textLength="61.75" lengthAdjust="spacingAndGlyphs" fill="#333">10'-10"× 6'-2"</text>
<path d="M1034.75,684.4 L1034.75,724.4" fill="none" stroke="#151515" stroke-width="1"/>
<path d="M1043.5,684.4 L1043.5,724.4" fill="none" stroke="#151515" stroke-width="1"/>
<path d="M1052.75,684.4 L1052.75,724.4" fill="none" stroke="#151515" stroke-width="1"/>
<path d="M1061.5,684.4 L1061.5,724.4" fill="none" stroke="#151515" stroke-width="1"/>
<path d="M992.75,736.25 L1033.75,736.25" fill="none" stroke="#151515" stroke-width="1"/>
<path d="M992.75,745.4 L1033.75,745.4" fill="none" stroke="#151515" stroke-width="1"/>
<path d="M992.75,754.4 L1033.75,754.4" fill="none" stroke="#151515" stroke-width="1"/>
<path d="M992.75,763.1 L1033.75,763.1" fill="none" stroke="#151515" stroke-width="1"/>
<path d="M992.75,771.9 L1033.75,771.9" fill="none" stroke="#151515" stroke-width="1"/>
<path d="M992.75,780.6 L1033.75,780.6" fill="none" stroke="#151515" stroke-width="1"/>
<path d="M992.75,789.4 L1033.75,789.4" fill="none" stroke="#151515" stroke-width="1"/>
<path d="M992.75,798.1 L1033.75,798.1" fill="none" stroke="#151515" stroke-width="1"/>
<circle cx="1061.5" cy="704" r="1.3" fill="#777" stroke="#151515" stroke-width="0.6"/>
<text x="1064.75" y="707.4" font-size="8.6" textLength="10.85" lengthAdjust="spacingAndGlyphs" fill="#4a4a4a">DN</text>
<path d="M1060.2,704 L1013.1,704 L1013.1,795" fill="none" stroke="#151515" stroke-width="1"/>
<path d="M1008.2,791.84 Q1011.14,795.8 1013.1,796 Q1015.06,795.8 1018,791.84" fill="none" stroke="#000" stroke-width="1.7"/>
<path d="M1068.5,724.4 L1034,724.4 L1034,783" fill="none" stroke="#151515" stroke-width="1"/>
<path d="M1068.5,728.75 L1038,728.75 L1038,783" fill="none" stroke="#151515" stroke-width="1"/>
<path d="M1068.5,724.4 L1068.5,728.75" fill="none" stroke="#151515" stroke-width="1"/>
<rect x="1005" y="676.25" width="63.5" height="8.15" fill="#fff" stroke="#151515" stroke-width="1"/>
<path d="M1135.25,699.4 H1201.9 V687.5 Q1201.9,683.5 1206,683.5 H1232.5" fill="none" stroke="#151515" stroke-width="1"/>
<ellipse cx="1182.5" cy="688.75" rx="10.6" ry="7.75" fill="none" stroke="#151515" stroke-width="1"/>
<circle cx="1182.25" cy="684.4" r="0.8" fill="#888" stroke="#151515" stroke-width="0.5"/>
<path d="M1211.25,677 L1211.25,683.5" fill="none" stroke="#151515" stroke-width="1"/>
<path d="M1211.25,682 L1232.5,682" fill="none" stroke="#666" stroke-width="0.5"/>
<path d="M1216.6,683.5 L1215,698 C1215,708 1230,708 1230,698 L1228.4,683.5" fill="none" stroke="#151515" stroke-width="1"/>
<path d="M1218.1,683.5 L1216.6,698 C1216.6,706.2 1228.4,706.2 1228.4,698 L1226.9,683.5" fill="none" stroke="#151515" stroke-width="0.5"/>
<path d="M1163.5,738.6 L1223,738.6" fill="none" stroke="#151515" stroke-width="0.6"/>
<rect x="1163.5" y="739.4" width="59.5" height="30" fill="#fff" stroke="#151515" stroke-width="0.6"/>
<path d="M1169.5,741.5 H1210 Q1218.75,741.5 1218.75,753.5 Q1218.75,765.6 1210,765.6 H1169.5 Q1168,765.6 1168,764 V743 Q1168,741.5 1169.5,741.5Z" fill="none" stroke="#151515" stroke-width="1"/>
<circle cx="1171.5" cy="753.5" r="0.9" fill="none" stroke="#151515" stroke-width="0.5"/>
<path d="M1210.6,852.25 V906.25 H1221 Q1227,907 1227,913 V915.6" fill="none" stroke="#151515" stroke-width="1"/>
<ellipse cx="1221.25" cy="876" rx="8.1" ry="10.6" fill="none" stroke="#151515" stroke-width="1"/>
<circle cx="1225.6" cy="876.25" r="0.8" fill="#888" stroke="#151515" stroke-width="0.5"/>
<rect x="1227" y="915.6" width="5.5" height="23.15" fill="#fff" stroke="#151515" stroke-width="1"/>
<path d="M1227,919.6 L1213,918 C1202.5,918 1202.5,933 1213,933 L1227,931.4" fill="none" stroke="#151515" stroke-width="1"/>
<path d="M1227,921.2 L1213,919.7 C1204.5,919.7 1204.5,931.3 1213,931.3 L1227,929.8" fill="none" stroke="#151515" stroke-width="0.5"/>
<path d="M1172,942.25 L1232.5,942.25" fill="none" stroke="#151515" stroke-width="1"/>
<path d="M1177.8,946 H1219 Q1228.75,946 1228.75,958 Q1228.75,970 1219,970 H1177.8 Q1176.25,970 1176.25,968.4 V947.6 Q1176.25,946 1177.8,946Z" fill="none" stroke="#151515" stroke-width="1"/>
<circle cx="1179.75" cy="957.75" r="0.9" fill="#888" stroke="#151515" stroke-width="0.5"/>
<rect x="1102.5" y="611.5" width="1.5" height="29.75" fill="#fff" stroke="#1a1a1a" stroke-width="0.6"/>
<path d="M1103.2,611.5 A29.4,29.75 0 0 0 1074,641.25" fill="none" stroke="#1a1a1a" stroke-width="0.8"/>
<path d="M1138.75,669.4 L1159.4,648" fill="none" stroke="#1a1a1a" stroke-width="2.1"/>
<path d="M1139.3,668.8 L1158.9,648.6" fill="none" stroke="#bbb" stroke-width="0.8"/>
<path d="M1159.4,648 A29.7,29.7 0 0 0 1117.7,648.6" fill="none" stroke="#1a1a1a" stroke-width="0.8"/>
<rect x="1135.25" y="730.4" width="29.15" height="1.4" fill="#fff" stroke="#1a1a1a" stroke-width="0.6"/>
<path d="M1135.25,702 A29.2,29 0 0 1 1164.4,731" fill="none" stroke="#1a1a1a" stroke-width="0.8"/>
<rect x="1069.4" y="800" width="1.8" height="23.5" fill="#ddd" stroke="#1a1a1a" stroke-width="0.6"/>
<rect x="1116.2" y="800" width="1.6" height="23.5" fill="#ddd" stroke="#1a1a1a" stroke-width="0.6"/>
<path d="M1070.3,823.5 A23.5,28.5 0 0 0 1093.75,795" fill="none" stroke="#1a1a1a" stroke-width="0.8"/>
<path d="M1117,823.5 A23.3,28.5 0 0 1 1093.75,795" fill="none" stroke="#1a1a1a" stroke-width="0.8"/>
<path d="M1163.75,842 L1185,821" fill="none" stroke="#1a1a1a" stroke-width="2.1"/>
<path d="M1164.3,841.4 L1184.5,821.5" fill="none" stroke="#bbb" stroke-width="0.8"/>
<path d="M1185,821 A29.9,29.9 0 0 0 1142.8,821.3" fill="none" stroke="#1a1a1a" stroke-width="0.8"/>
<rect x="1172" y="858.3" width="28.6" height="1.5" fill="#fff" stroke="#1a1a1a" stroke-width="0.6"/>
<path d="M1200.6,859 A28.6,29 0 0 1 1172,888" fill="none" stroke="#1a1a1a" stroke-width="0.8"/>
<path d="M1004.75,644 L1011.9,634.4 L1020.25,642.5" fill="none" stroke="#555" stroke-width="1.6" stroke-linejoin="miter"/>
<path d="M1036.25,642.5 L1043.5,634.4 L1052.25,644" fill="none" stroke="#555" stroke-width="1.6" stroke-linejoin="miter"/>
<path d="M1178,646.5 L1185,637.5 L1193,645" fill="none" stroke="#555" stroke-width="1.6" stroke-linejoin="miter"/>
<path d="M1209.75,645 L1217.5,637.5 L1225.6,646.5" fill="none" stroke="#555" stroke-width="1.6" stroke-linejoin="miter"/>
<path d="M1134.75,766 L1125,758 L1130.6,753.5" fill="none" stroke="#555" stroke-width="1.6" stroke-linejoin="miter"/>
<rect x="986" y="484.2" width="253" height="6.6" fill="#000"/>
<rect x="1022" y="485.1" width="59" height="4.8" fill="#fff"/>
<path d="M1023.8,487.5 L1079.2,487.5" fill="none" stroke="#222" stroke-width="0.8"/>
<path d="M1023.8,486.1 L1023.8,488.9" fill="none" stroke="#222" stroke-width="0.8"/>
<path d="M1079.2,486.1 L1079.2,488.9" fill="none" stroke="#222" stroke-width="0.8"/>
<rect x="1144.75" y="485.1" width="58.35" height="4.8" fill="#fff"/>
<path d="M1146.55,487.5 L1201.3,487.5" fill="none" stroke="#222" stroke-width="0.8"/>
<path d="M1146.55,486.1 L1146.55,488.9" fill="none" stroke="#222" stroke-width="0.8"/>
<path d="M1201.3,486.1 L1201.3,488.9" fill="none" stroke="#222" stroke-width="0.8"/>
<rect x="986" y="484.2" width="6.8" height="523.8" fill="#000"/>
<rect x="986.9" y="695" width="5" height="22.5" fill="#fff"/>
<path d="M989.4,696.8 L989.4,715.7" fill="none" stroke="#222" stroke-width="0.8"/>
<path d="M988,696.8 L990.8,696.8" fill="none" stroke="#222" stroke-width="0.8"/>
<path d="M988,715.7 L990.8,715.7" fill="none" stroke="#222" stroke-width="0.8"/>
<rect x="986.9" y="751.25" width="5" height="22.5" fill="#fff"/>
<path d="M989.4,753.05 L989.4,771.95" fill="none" stroke="#222" stroke-width="0.8"/>
<path d="M988,753.05 L990.8,753.05" fill="none" stroke="#222" stroke-width="0.8"/>
<path d="M988,771.95 L990.8,771.95" fill="none" stroke="#222" stroke-width="0.8"/>
<rect x="986.9" y="888.75" width="5" height="16.85" fill="#fff"/>
<path d="M989.4,890.55 L989.4,903.8" fill="none" stroke="#222" stroke-width="0.8"/>
<path d="M988,890.55 L990.8,890.55" fill="none" stroke="#222" stroke-width="0.8"/>
<path d="M988,903.8 L990.8,903.8" fill="none" stroke="#222" stroke-width="0.8"/>
<rect x="986.9" y="916" width="5" height="16.75" fill="#fff"/>
<path d="M989.4,917.8 L989.4,930.95" fill="none" stroke="#222" stroke-width="0.8"/>
<path d="M988,917.8 L990.8,917.8" fill="none" stroke="#222" stroke-width="0.8"/>
<path d="M988,930.95 L990.8,930.95" fill="none" stroke="#222" stroke-width="0.8"/>
<rect x="986.9" y="942.5" width="5" height="16.9" fill="#fff"/>
<path d="M989.4,944.3 L989.4,957.6" fill="none" stroke="#222" stroke-width="0.8"/>
<path d="M988,944.3 L990.8,944.3" fill="none" stroke="#222" stroke-width="0.8"/>
<path d="M988,957.6 L990.8,957.6" fill="none" stroke="#222" stroke-width="0.8"/>
<rect x="1232.5" y="484.2" width="6.5" height="495.3" fill="#000"/>
<rect x="986" y="1001.9" width="123.4" height="6.1" fill="#000"/>
<rect x="1011.9" y="1002.8" width="71.1" height="4.3" fill="#fff"/>
<path d="M1013.7,1004.95 L1081.2,1004.95" fill="none" stroke="#222" stroke-width="0.8"/>
<path d="M1013.7,1003.55 L1013.7,1006.35" fill="none" stroke="#222" stroke-width="0.8"/>
<path d="M1081.2,1003.55 L1081.2,1006.35" fill="none" stroke="#222" stroke-width="0.8"/>
<rect x="1103.5" y="973" width="5.9" height="35" fill="#000"/>
<rect x="1103.5" y="973" width="135.5" height="6.5" fill="#000"/>
<rect x="1190.6" y="973.9" width="23.15" height="4.7" fill="#fff"/>
<path d="M1192.4,976.25 L1211.95,976.25" fill="none" stroke="#222" stroke-width="0.8"/>
<path d="M1192.4,974.85 L1192.4,977.65" fill="none" stroke="#222" stroke-width="0.8"/>
<path d="M1211.95,974.85 L1211.95,977.65" fill="none" stroke="#222" stroke-width="0.8"/>
<rect x="1110" y="490" width="5" height="156" fill="#000"/>
<rect x="1103.5" y="641.25" width="11.5" height="4.55" fill="#000"/>
<polygon points="1115,641 1118.2,647.25 1115,651.4 1110.4,645.6" fill="#000"/>
<rect x="992.75" y="641.25" width="12" height="4.75" fill="#000"/>
<rect x="1052.25" y="641.25" width="21.75" height="4.75" fill="#000"/>
<rect x="1063.75" y="646" width="4.75" height="29.6" fill="#000"/>
<rect x="992.75" y="671.25" width="75.75" height="4.55" fill="#000"/>
<rect x="992.75" y="675.6" width="12.25" height="8.8" fill="#000"/>
<polygon points="1130.6,685 1171.25,644.4 1178,644.4 1178,648.6 1174.4,648.6 1135.25,687.6 1135.25,702 1130.6,702" fill="#000"/>
<polygon points="1136.4,670.2 1139.4,667.2 1147,674.8 1144,677.8" fill="#000"/>
<rect x="1142" y="672.25" width="90.5" height="4.75" fill="#000"/>
<rect x="1225.6" y="644.4" width="6.9" height="4.35" fill="#000"/>
<rect x="1130" y="731.25" width="4.9" height="11.25" fill="#000"/>
<rect x="1134.75" y="734.75" width="28.75" height="4.65" fill="#000"/>
<rect x="1158.75" y="739.4" width="4.75" height="30" fill="#000"/>
<rect x="1130" y="769.4" width="102.5" height="4.6" fill="#000"/>
<rect x="1130" y="766" width="4.9" height="3.4" fill="#000"/>
<rect x="1223" y="735" width="9.5" height="34.4" fill="#000"/>
<rect x="1130" y="774" width="4.9" height="41" fill="#000"/>
<polygon points="1130,813.5 1134.9,811.8 1143.2,821 1140,824.9" fill="#000"/>
<rect x="1124.75" y="783.3" width="5.25" height="16.7" fill="#000"/>
<rect x="1117.4" y="795" width="12.6" height="5" fill="#000"/>
<rect x="1034" y="783" width="28.5" height="17" fill="#000"/>
<rect x="1034" y="795" width="36.25" height="5" fill="#000"/>
<rect x="1033.75" y="800" width="4.75" height="45" fill="#000"/>
<rect x="992.75" y="840.25" width="45.75" height="4.75" fill="#000"/>
<polygon points="1161,845.6 1164.4,842.4 1170,847.3 1232.5,847.3 1232.5,852.25 1172,852.25 1172,858.2 1167.25,858.2 1167.25,852" fill="#000"/>
<rect x="1167.25" y="888" width="4.95" height="85" fill="#000"/>
<text x="1023.75" y="566.65" font-size="11" font-weight="700" textLength="53.15" lengthAdjust="spacingAndGlyphs" fill="#000">BEDROOM</text>
<text x="1020.25" y="580.5" font-size="11" textLength="61" lengthAdjust="spacingAndGlyphs" fill="#333">9'-11"×12'-8"</text>
<text x="1144.75" y="566.65" font-size="11" font-weight="700" textLength="53.35" lengthAdjust="spacingAndGlyphs" fill="#000">BEDROOM</text>
<text x="1141.25" y="580.5" font-size="11" textLength="65" lengthAdjust="spacingAndGlyphs" fill="#333">9'-11"×12'-11"</text>
<text x="1011.9" y="662.65" font-size="8.8" font-weight="700" textLength="28.1" lengthAdjust="spacingAndGlyphs" fill="#000">CLOSET</text>
<text x="1185" y="662.65" font-size="8.8" font-weight="700" textLength="28" lengthAdjust="spacingAndGlyphs" fill="#000">CLOSET</text>
<text x="1181" y="717.3" font-size="11" font-weight="700" textLength="25" lengthAdjust="spacingAndGlyphs" fill="#000">BATH</text>
<text x="1165.6" y="729.9" font-size="11" textLength="55.65" lengthAdjust="spacingAndGlyphs" fill="#333">8'-3" × 7'-9"</text>
<text x="1151.25" y="768" dy="3.15" font-size="8.8" font-weight="700" textLength="27.4" lengthAdjust="spacingAndGlyphs" fill="#000" transform="rotate(-90 1151.25 768)">CLOSET</text>
<text x="1170.6" y="791.9" font-size="11" font-weight="700" textLength="28.8" lengthAdjust="spacingAndGlyphs" fill="#000">W.I.C.</text>
<text x="1156.9" y="806.1" font-size="11" textLength="56.1" lengthAdjust="spacingAndGlyphs" fill="#333">8'-3" × 6'-2"</text>
<text x="1026.25" y="903.9" font-size="11" font-weight="700" textLength="102.75" lengthAdjust="spacingAndGlyphs" fill="#000">PRIMARY BEDROOM</text>
<text x="1048.75" y="918.25" font-size="11" textLength="61.85" lengthAdjust="spacingAndGlyphs" fill="#333">14'-9"×17'-0"</text>
<text x="1172" y="906" font-size="11" font-weight="700" textLength="38.6" lengthAdjust="spacingAndGlyphs" fill="#000" stroke="#fff" stroke-width="0" >ENSUITE</text>
<text x="1173" y="919.9" font-size="11" textLength="29.5" lengthAdjust="spacingAndGlyphs" fill="#333">5'-7" ×</text>
<text x="1177.5" y="934.25" font-size="11" textLength="25.5" lengthAdjust="spacingAndGlyphs" fill="#333">10'-3"</text>
<text x="381.5" y="1104.25" font-size="7.8" textLength="24.75" lengthAdjust="spacingAndGlyphs" fill="#222">SCALE</text>
<rect x="387.25" y="1106.9" width="12.35" height="4.2" fill="#000"/>
<rect x="399.2" y="1110.9" width="12.2" height="4.1" fill="#000"/>
<rect x="411.1" y="1106.9" width="12.2" height="4.2" fill="#000"/>
<rect x="422.9" y="1110.9" width="12.3" height="4.1" fill="#000"/>
<rect x="434.8" y="1106.9" width="12.45" height="4.2" fill="#000"/>
<text x="382.5" y="1120.75" font-size="7.8" textLength="6.5" lengthAdjust="spacingAndGlyphs" fill="#333">0'</text>
<text x="447.25" y="1120.75" font-size="7.8" textLength="5.75" lengthAdjust="spacingAndGlyphs" fill="#333">5'</text>
<text x="370.25" y="1165" font-size="37.5" font-weight="700" textLength="98.75" lengthAdjust="spacingAndGlyphs" fill="#000">cotala</text>
<text x="471.5" y="1166.5" font-size="4" textLength="5" lengthAdjust="spacingAndGlyphs" fill="#000">™</text>
<text x="478.75" y="1156.25" font-size="9.3" textLength="192.5" lengthAdjust="spacingAndGlyphs" fill="#222">E&amp;O Insured. For advertising purposes only.</text>
<text x="676.25" y="1156.25" font-size="9.3" textLength="227.5" lengthAdjust="spacingAndGlyphs" fill="#222">Not intended for architectural or construction use.</text>
<text x="908" y="1156.25" font-size="9.3" textLength="322.5" lengthAdjust="spacingAndGlyphs" fill="#222">Floorplan and measurements are approximate within +/- 2% tolerance.</text>
<path d="M1231.4,1077.6 A26.1,26.1 0 1 1 1221.9,1068.5" fill="none" stroke="#1a1a1a" stroke-width="1.35"/>
<path d="M1219.4,1080.6 L1191.9,1091.25 L1204.4,1095.6 L1208.1,1108.1Z" fill="none" stroke="#1a1a1a" stroke-width="1.35" stroke-linejoin="miter"/>
<text x="1223.4" y="1076.1" font-size="10" font-weight="700" fill="#111" transform="rotate(45 1226.9 1072.5)">N</text>
</svg>
</body></html>
